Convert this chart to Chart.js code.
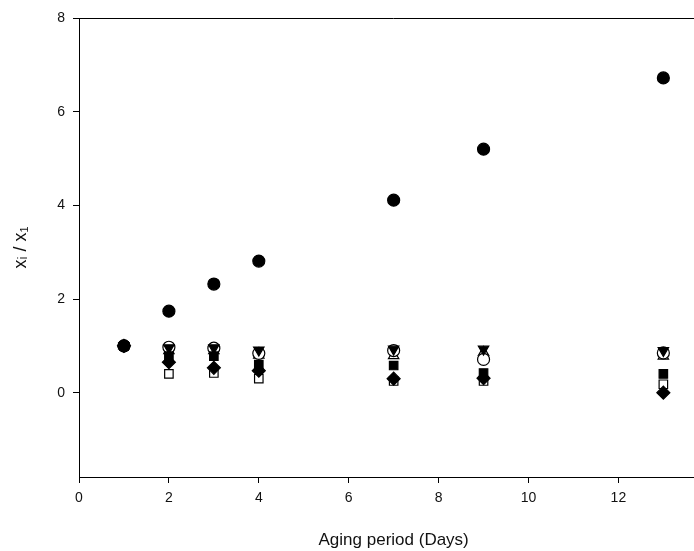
<!DOCTYPE html>
<html>
<head>
<meta charset="utf-8">
<script src="https://cdn.jsdelivr.net/npm/chart.js@4"></script>
<style>
  html, body { margin: 0; padding: 0; background: #fff; overflow: hidden; }
  #wrap { width: 694px; height: 551px; overflow: hidden; }
</style>
</head>
<body>
<div id="wrap"><canvas id="myChart" width="716" height="551"></canvas></div>
<script>
// aging days
const days = [1, 2, 3, 4, 7, 9, 13];

// ratio x_i / x_1 for each marker series
const filledCircle = [1, 1.74, 2.32, 2.81, 4.11, 5.2, 6.72];
const openCircle   = [1, 0.97, 0.95, 0.84, 0.9, 0.71, 0.85];
const filledTriDn  = [1, 0.96, 0.96, 0.91, 0.93, 0.93, 0.9];
const openTriUp    = [1, 0.9, 0.9, 0.8, 0.79, 0.86, 0.78];
const filledSquare = [1, 0.78, 0.78, 0.6, 0.58, 0.42, 0.4];
const openSquare   = [1, 0.4, 0.42, 0.3, 0.25, 0.25, 0.18];
const filledDiam   = [1, 0.65, 0.53, 0.47, 0.3, 0.31, 0.0];

const xTicks = [0, 2, 4, 6, 8, 10, 12];
const yTicks = [0, 2, 4, 6, 8];

function pts(vals) {
  return vals.map(function (v, i) { return { x: days[i], y: v }; });
}

function series(vals, style, filled, rot) {
  return {
    data: pts(vals),
    pointStyle: style,
    pointRotation: rot || 0,
    pointRadius: style === 'rectRot' ? 6.5 : 6,
    backgroundColor: filled ? '#000' : '#fff',
    borderColor: '#000',
    borderWidth: 1.2,
    showLine: false
  };
}

// top frame line
const topLine = {
  id: 'topLine',
  beforeDatasetsDraw(chart) {
    const a = chart.chartArea;
    const c = chart.ctx;
    c.save();
    c.strokeStyle = '#000';
    c.lineWidth = 1;
    c.beginPath();
    c.moveTo(a.left, a.top + 0.5);
    c.lineTo(a.right, a.top + 0.5);
    c.stroke();
    c.restore();
  }
};

const ctx = document.getElementById('myChart');

// first datasets are drawn on top
new Chart(ctx, {
  type: 'scatter',
  data: {
    datasets: [
      series(filledCircle, 'circle', true),
      series(filledTriDn, 'triangle', true, 180),
      series(filledDiam, 'rectRot', true),
      series(filledSquare, 'rect', true),
      series(openCircle, 'circle', false),
      series(openTriUp, 'triangle', false),
      series(openSquare, 'rect', false)
    ]
  },
  options: {
    responsive: false,
    animation: false,
    layout: { padding: { top: 18, right: 0, left: 0, bottom: 0 } },
    plugins: { legend: { display: false }, tooltip: { enabled: false } },
    scales: {
      x: {
        type: 'linear',
        min: 0,
        max: 14,
        afterBuildTicks: function (s) { s.ticks = xTicks.map(function (v) { return { value: v }; }); },
        afterFit: function (s) { s.height = 74; },
        grid: { display: true, drawOnChartArea: false, drawTicks: true, tickLength: 6, color: '#000' },
        border: { display: true, color: '#000', width: 1 },
        ticks: { color: '#111', font: { family: 'Liberation Sans', size: 14 }, padding: 7, maxRotation: 0 },
        title: {
          display: true,
          text: 'Aging period (Days)',
          color: '#111',
          font: { family: 'Liberation Sans', size: 17 },
          padding: { top: 16, bottom: 0 }
        }
      },
      y: {
        type: 'linear',
        min: -1.8,
        max: 8,
        afterBuildTicks: function (s) { s.ticks = yTicks.map(function (v) { return { value: v }; }); },
        afterFit: function (s) { s.width = 79; },
        grid: { display: true, drawOnChartArea: false, drawTicks: true, tickLength: 6, color: '#000' },
        border: { display: true, color: '#000', width: 1 },
        ticks: { color: '#111', font: { family: 'Liberation Sans', size: 14 }, padding: 8 },
        title: {
          display: true,
          text: 'xᵢ / x₁',
          color: '#111',
          font: { family: 'Liberation Sans', size: 18 },
          padding: { top: 10, bottom: 20 }
        }
      }
    }
  },
  plugins: [topLine]
});
</script>
</body>
</html>
